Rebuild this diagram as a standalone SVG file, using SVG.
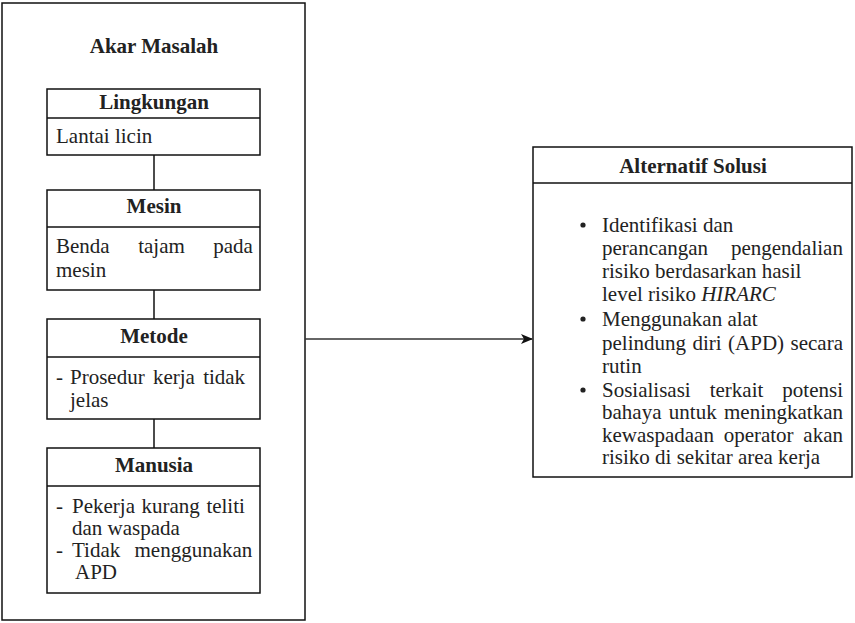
<svg xmlns="http://www.w3.org/2000/svg" width="855" height="623" viewBox="0 0 855 623">
<style>
.box{fill:#fff;stroke:#111;stroke-width:1.5}
.ln{stroke:#111;stroke-width:1.5;fill:none}
text{font-family:'Liberation Serif', 'Tinos', 'DejaVu Serif', serif;font-size:21px;fill:#222}
.b{font-weight:bold}
.c{text-anchor:middle}
</style>
<defs>
<marker id="ah" markerWidth="12" markerHeight="10" refX="11" refY="5" orient="auto" markerUnits="userSpaceOnUse">
<path d="M0,0 L12,5 L0,10 L3,5 z" fill="#111"/>
</marker>
</defs>
<rect width="855" height="623" fill="#fff"/>
<g id="akar-masalah">
<rect class="box" x="2" y="3" width="303" height="617"/>
<text class="b c" x="154" y="53">Akar Masalah</text>
</g>
<g id="connectors">
<line class="ln" x1="154" y1="155" x2="154" y2="190"/>
<line class="ln" x1="154" y1="290" x2="154" y2="319"/>
<line class="ln" x1="154" y1="419" x2="154" y2="448"/>
<line x1="305" y1="339" x2="532" y2="339" stroke="#333" stroke-width="1.5" marker-end="url(#ah)"/>
</g>
<g id="lingkungan">
<rect class="box" x="47" y="89" width="213" height="66"/>
<line class="ln" x1="47" y1="118" x2="260" y2="118"/>
<text class="b c" x="154" y="109">Lingkungan</text>
<text x="56" y="143">Lantai licin</text>
</g>
<g id="mesin">
<rect class="box" x="47" y="190" width="213" height="100"/>
<line class="ln" x1="47" y1="227" x2="260" y2="227"/>
<text class="b c" x="154" y="213">Mesin</text>
<text x="56" y="253" word-spacing="23.25">Benda tajam pada</text>
<text x="56" y="277">mesin</text>
</g>
<g id="metode">
<rect class="box" x="47" y="319" width="213" height="100"/>
<line class="ln" x1="47" y1="357" x2="260" y2="357"/>
<text class="b c" x="154" y="343">Metode</text>
<text x="56" y="384">-</text>
<text x="70" y="384" word-spacing="3">Prosedur kerja tidak</text>
<text x="70" y="407">jelas</text>
</g>
<g id="manusia">
<rect class="box" x="47" y="448" width="213" height="145"/>
<line class="ln" x1="47" y1="486" x2="260" y2="486"/>
<text class="b c" x="154" y="472">Manusia</text>
<text x="56" y="513">-</text>
<text x="72" y="513" word-spacing="1.3">Pekerja kurang teliti</text>
<text x="72" y="535">dan waspada</text>
<text x="56" y="557">-</text>
<text x="72" y="557" word-spacing="9">Tidak menggunakan</text>
<text x="75" y="579">APD</text>
</g>
<g id="alternatif-solusi">
<rect class="box" x="533" y="147" width="319" height="330"/>
<line class="ln" x1="533" y1="183" x2="852" y2="183"/>
<text class="b c" x="693" y="173">Alternatif Solusi</text>
<circle cx="583" cy="225" r="2.6" fill="#222"/>
<circle cx="583" cy="319" r="2.6" fill="#222"/>
<circle cx="583" cy="390" r="2.6" fill="#222"/>
<text x="602" y="232">Identifikasi dan</text>
<text x="602" y="255" word-spacing="17.6">perancangan pengendalian</text>
<text x="602" y="278">risiko berdasarkan hasil</text>
<text x="602" y="301">level risiko <tspan font-style="italic">HIRARC</tspan></text>
<text x="602" y="326">Menggunakan alat</text>
<text x="602" y="350" word-spacing="1.2">pelindung diri (APD) secara</text>
<text x="602" y="373">rutin</text>
<text x="602" y="397" word-spacing="13.75">Sosialisasi terkait potensi</text>
<text x="602" y="419" word-spacing="2.1">bahaya untuk meningkatkan</text>
<text x="602" y="442" word-spacing="4.45">kewaspadaan operator akan</text>
<text x="602" y="464">risiko di sekitar area kerja</text>
</g>
</svg>
